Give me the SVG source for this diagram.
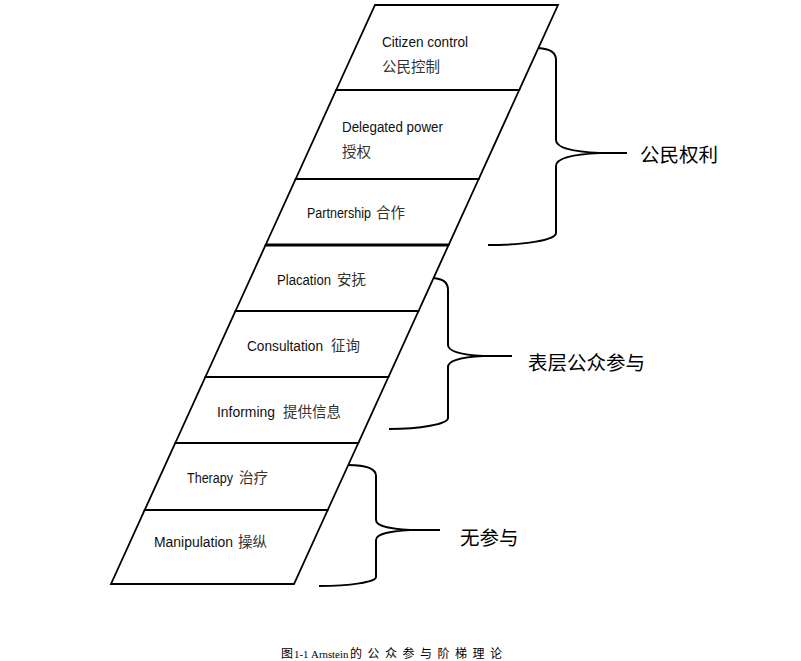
<svg xmlns="http://www.w3.org/2000/svg" width="801" height="661" viewBox="0 0 801 661">
<style>
.rung{fill:#fff;stroke:#000;stroke-width:1.8;stroke-linejoin:miter}
.lbl{font-family:"Liberation Sans","Noto Sans CJK SC",sans-serif;font-size:14px;fill:#111}
.cn{font-family:"Noto Sans CJK SC",sans-serif;font-size:14.5px;fill:#333}
.brace{fill:none;stroke:#000;stroke-width:2}
.big{font-family:"Noto Sans CJK SC",sans-serif;font-size:19.5px;fill:#000}
.cap{font-family:"Liberation Serif","Noto Sans CJK SC",serif;font-size:10.8px;fill:#000}
.capcn{font-family:"Noto Sans CJK SC",serif;font-size:12px}
</style>
<rect width="801" height="661" fill="#fff"/>
<g id="rung-citizen-control">
<polygon class="rung" points="375,5 558,5 519.2,90 336.2,90"/>
<text class="lbl" x="382" y="47" textLength="86" lengthAdjust="spacingAndGlyphs">Citizen control</text>
<text class="cn" x="382" y="72">公民控制</text>
</g>
<g id="rung-delegated-power">
<polygon class="rung" points="336.2,90 519.2,90 478.7,179 295.7,179"/>
<text class="lbl" x="342" y="132" textLength="101" lengthAdjust="spacingAndGlyphs">Delegated power</text>
<text class="cn" x="342" y="157">授权</text>
</g>
<g id="rung-partnership">
<polygon class="rung" points="295.7,179 478.7,179 448.6,245 265.6,245"/>
<text class="lbl" x="307" y="218" textLength="64" lengthAdjust="spacingAndGlyphs">Partnership</text>
<text class="cn" x="376" y="218">合作</text>
</g>
<g id="rung-placation">
<polygon class="rung" points="265.6,245 448.6,245 418.5,311 235.5,311"/>
<line x1="265.6" y1="245" x2="448.6" y2="245" stroke="#000" stroke-width="2.8"/>
<text class="lbl" x="277" y="285" textLength="54" lengthAdjust="spacingAndGlyphs">Placation</text>
<text class="cn" x="337" y="285">安抚</text>
</g>
<g id="rung-consultation">
<polygon class="rung" points="235.5,311 418.5,311 388.4,377 205.4,377"/>
<text class="lbl" x="247" y="351" textLength="76" lengthAdjust="spacingAndGlyphs">Consultation</text>
<text class="cn" x="331" y="351">征询</text>
</g>
<g id="rung-informing">
<polygon class="rung" points="205.4,377 388.4,377 358.3,443 175.3,443"/>
<text class="lbl" x="217" y="417" textLength="58" lengthAdjust="spacingAndGlyphs">Informing</text>
<text class="cn" x="283" y="417">提供信息</text>
</g>
<g id="rung-therapy">
<polygon class="rung" points="175.3,443 358.3,443 327.7,510 144.7,510"/>
<text class="lbl" x="187" y="483" textLength="46" lengthAdjust="spacingAndGlyphs">Therapy</text>
<text class="cn" x="239" y="483">治疗</text>
</g>
<g id="rung-manipulation">
<polygon class="rung" points="144.7,510 327.7,510 294,584 111,584"/>
<text class="lbl" x="154" y="547" textLength="79" lengthAdjust="spacingAndGlyphs">Manipulation</text>
<text class="cn" x="238" y="547">操纵</text>
</g>
<g id="connectors">
<path class="brace" d="M538,48 C550,49 556,52 556,60 L556,140 C556,149 578,152 600,153 C578,154 556,157 556,166 L556,233 C556,240 525,245 488,245"/>
<line class="brace" x1="598" y1="153" x2="627" y2="153"/>
<path class="brace" d="M433,278 C443,279 448,282 448,290 L448,345 C448,352 465,355 483,356 C465,357 448,360 448,367 L448,418 C448,424 420,429 389,429"/>
<line class="brace" x1="481" y1="356" x2="512" y2="356"/>
<path class="brace" d="M348,465 C366,465 376,468 376,476 L376,520 C376,527 394,529 410,530 C394,531 376,533 376,540 L376,577 C376,582 350,586 319,586"/>
<line class="brace" x1="408" y1="530" x2="440" y2="530"/>
</g>
<g id="group-labels">
<text class="big" x="640" y="162">公民权利</text>
<text class="big" x="528" y="370" font-size="20px">表层公众参与</text>
<text class="big" x="460" y="545">无参与</text>
</g>
<g id="caption">
<text class="cap" x="281" y="658"><tspan class="capcn">图</tspan><tspan x="294">1-1 Arnstein</tspan><tspan class="capcn" x="350" letter-spacing="5.5">的公众参与阶梯理论</tspan></text>
</g>
</svg>
